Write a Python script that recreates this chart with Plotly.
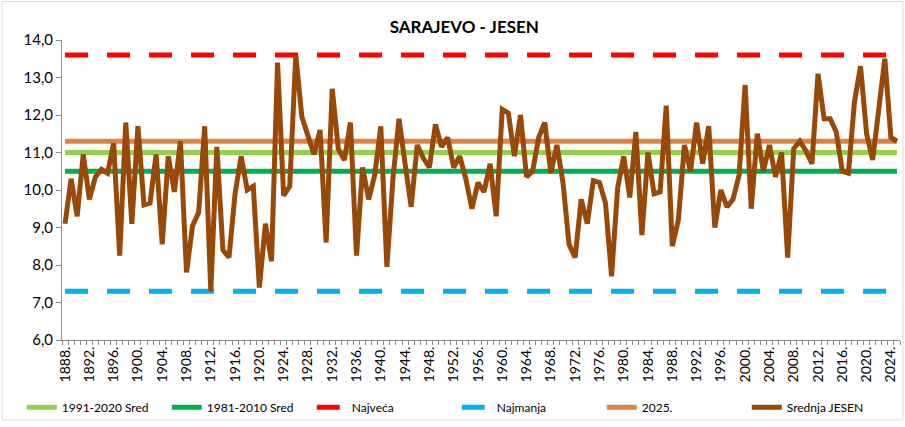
import plotly.graph_objects as go

years = list(range(1888, 2026))
srednja_jesen = [
    9.1, 10.3, 9.3, 10.95, 9.75, 10.35, 10.55, 10.45, 11.25, 8.25,
    11.8, 9.1, 11.7, 9.6, 9.65, 10.95, 8.55, 10.9, 9.95, 11.3,
    7.8, 9.05, 9.4, 11.7, 7.3, 11.15, 8.4, 8.2, 9.9, 10.9,
    10.0, 10.1, 7.4, 9.1, 8.1, 13.4, 9.85, 10.1, 13.6, 11.95,
    11.45, 10.95, 11.6, 8.6, 12.7, 11.1, 10.8, 11.8, 8.25, 10.6,
    9.75, 10.4, 11.7, 7.95, 10.3, 11.9, 10.7, 9.55, 11.2, 10.85,
    10.6, 11.75, 11.15, 11.4, 10.6, 10.9, 10.3, 9.5, 10.2, 9.95,
    10.7, 9.3, 12.15, 12.05, 10.9, 12.0, 10.35, 10.5, 11.4, 11.8,
    10.45, 11.2, 10.2, 8.55, 8.2, 9.75, 9.1, 10.25, 10.2, 9.65,
    7.7, 10.05, 10.9, 9.8, 11.55, 8.8, 11.0, 9.9, 9.95, 12.25,
    8.5, 9.2, 11.2, 10.5, 11.8, 10.7, 11.7, 9.0, 10.0, 9.55,
    9.75, 10.4, 12.8, 9.5, 11.5, 10.5, 11.2, 10.35, 11.0, 8.2,
    11.1, 11.3, 11.05, 10.7, 13.1, 11.9, 11.9, 11.55, 10.5, 10.45,
    12.35, 13.3, 11.5, 10.8, 12.15, 13.5, 11.4, 11.3,
]
sred_1991_2020 = 11.0
sred_1981_2010 = 10.5
najveca = 13.6
najmanja = 7.3
god_2025 = 11.3

tick_years = list(range(1888, 2025, 4))
tick_text = [f"{y}." for y in tick_years]

FONT = "Lato"
n = len(years)

fig = go.Figure()
fig.add_trace(go.Scatter(x=years, y=[sred_1991_2020] * n, mode="lines",
                         name="1991-2020 Sred", line=dict(color="#92D050", width=5)))
fig.add_trace(go.Scatter(x=years, y=[sred_1981_2010] * n, mode="lines",
                         name="1981-2010 Sred", line=dict(color="#00B050", width=5)))
fig.add_trace(go.Scatter(x=years, y=[najveca] * n, mode="lines",
                         name="Najveća", line=dict(color="#FF0000", width=5, dash="23px,19px")))
fig.add_trace(go.Scatter(x=years, y=[najmanja] * n, mode="lines",
                         name="Najmanja", line=dict(color="#00B0F0", width=5, dash="23px,19px")))
fig.add_trace(go.Scatter(x=years, y=[god_2025] * n, mode="lines",
                         name="2025.", line=dict(color="#DE8344", width=5)))
fig.add_trace(go.Scatter(x=years, y=srednja_jesen, mode="lines",
                         name="Srednja JESEN", line=dict(color="#984807", width=5)))

fig.update_layout(
    width=905, height=427,
    margin=dict(l=62, r=5, t=40, b=83),
    paper_bgcolor="white", plot_bgcolor="white",
    separators=", ",
    font=dict(family=FONT, color="black"),
    title=dict(text="<b>SARAJEVO - JESEN</b>", x=0.513, xref="container", xanchor="center",
               y=1 - 27 / 427, yref="container", yanchor="middle",
               font=dict(size=17, family=FONT, color="black")),
    showlegend=True,
    legend=dict(orientation="h", x=-0.048, xanchor="left", y=-0.224, yanchor="middle",
                font=dict(size=12, family=FONT), bgcolor="rgba(0,0,0,0)",
                traceorder="normal", itemwidth=30, entrywidth=100),
    xaxis=dict(range=[1887.5, 2025.5], tickmode="array", tickvals=tick_years, ticktext=tick_text,
               tickangle=-90, tickfont=dict(size=14, family=FONT), ticks="",
               showgrid=False, zeroline=False, showline=True, linecolor="#8C8C8C", linewidth=1,
               minor=dict(tickmode="linear", tick0=1887.5, dtick=1, ticks="outside",
                          ticklen=4, tickcolor="#8C8C8C", tickwidth=1, showgrid=False)),
    yaxis=dict(range=[6, 14], dtick=1, tick0=6, tickformat=".1f",
               tickfont=dict(size=15, family=FONT), ticks="outside", ticklen=5,
               tickcolor="#8C8C8C", showgrid=False, zeroline=False, showline=True,
               linecolor="#8C8C8C", linewidth=1),
    shapes=[dict(type="rect", xref="paper", yref="paper",
                 x0=(2 - 62) / 838, x1=(903 - 62) / 838,
                 y0=-(425 - 344) / 304, y1=(344 - 1) / 304,
                 line=dict(color="#D9D9D9", width=1), fillcolor="rgba(0,0,0,0)", layer="below")],
)

fig.write_html("out.html", config={"displayModeBar": False},
               post_script="document.body.style.margin='0px';")
